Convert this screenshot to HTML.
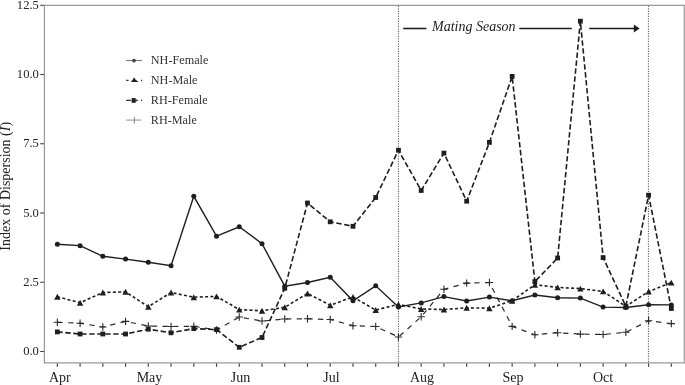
<!DOCTYPE html>
<html><head><meta charset="utf-8"><style>
html,body{margin:0;padding:0;background:#fff;}
svg{display:block;will-change:transform;}
text{font-family:"Liberation Serif",serif;fill:#222;}
.yl{font-size:12.6px;}
.xl{font-size:14px;}
.lg{font-size:12.2px;fill:#333;}
.ms{font-size:14px;font-style:italic;}
.ylab{font-size:14px;}
</style></head><body>
<svg width="685" height="385" viewBox="0 0 685 385">
<path d="M44.4,5.3 H684.3 M44.4,362.9 H684.3" fill="none" stroke="#999" stroke-width="1.2"/>
<path d="M44.4,4.7 V363.5 M684.3,4.7 V363.5" fill="none" stroke="#999" stroke-width="1.2"/>
<line x1="40.2" y1="351.5" x2="44" y2="351.5" stroke="#444" stroke-width="1.1"/>
<text x="38.9" y="355.00" text-anchor="end" class="yl">0.0</text>
<line x1="40.2" y1="282.25" x2="44" y2="282.25" stroke="#444" stroke-width="1.1"/>
<text x="38.9" y="285.75" text-anchor="end" class="yl">2.5</text>
<line x1="40.2" y1="213" x2="44" y2="213" stroke="#444" stroke-width="1.1"/>
<text x="38.9" y="216.50" text-anchor="end" class="yl">5.0</text>
<line x1="40.2" y1="143.75" x2="44" y2="143.75" stroke="#444" stroke-width="1.1"/>
<text x="38.9" y="147.25" text-anchor="end" class="yl">7.5</text>
<line x1="40.2" y1="74.5" x2="44" y2="74.5" stroke="#444" stroke-width="1.1"/>
<text x="38.9" y="78.00" text-anchor="end" class="yl">10.0</text>
<line x1="40.2" y1="5.3" x2="44" y2="5.3" stroke="#444" stroke-width="1.1"/>
<text x="38.9" y="8.80" text-anchor="end" class="yl">12.5</text>
<line x1="57.35" y1="363.4" x2="57.35" y2="366.8" stroke="#444" stroke-width="1.2"/>
<line x1="80.09" y1="363.4" x2="80.09" y2="366.8" stroke="#444" stroke-width="1.2"/>
<line x1="102.83" y1="363.4" x2="102.83" y2="366.8" stroke="#444" stroke-width="1.2"/>
<line x1="125.57" y1="363.4" x2="125.57" y2="366.8" stroke="#444" stroke-width="1.2"/>
<line x1="148.31" y1="363.4" x2="148.31" y2="366.8" stroke="#444" stroke-width="1.2"/>
<line x1="171.05" y1="363.4" x2="171.05" y2="366.8" stroke="#444" stroke-width="1.2"/>
<line x1="193.79" y1="363.4" x2="193.79" y2="366.8" stroke="#444" stroke-width="1.2"/>
<line x1="216.53" y1="363.4" x2="216.53" y2="366.8" stroke="#444" stroke-width="1.2"/>
<line x1="239.27" y1="363.4" x2="239.27" y2="366.8" stroke="#444" stroke-width="1.2"/>
<line x1="262.01" y1="363.4" x2="262.01" y2="366.8" stroke="#444" stroke-width="1.2"/>
<line x1="284.75" y1="363.4" x2="284.75" y2="366.8" stroke="#444" stroke-width="1.2"/>
<line x1="307.49" y1="363.4" x2="307.49" y2="366.8" stroke="#444" stroke-width="1.2"/>
<line x1="330.23" y1="363.4" x2="330.23" y2="366.8" stroke="#444" stroke-width="1.2"/>
<line x1="352.97" y1="363.4" x2="352.97" y2="366.8" stroke="#444" stroke-width="1.2"/>
<line x1="375.71" y1="363.4" x2="375.71" y2="366.8" stroke="#444" stroke-width="1.2"/>
<line x1="398.45" y1="363.4" x2="398.45" y2="366.8" stroke="#444" stroke-width="1.2"/>
<line x1="421.19" y1="363.4" x2="421.19" y2="366.8" stroke="#444" stroke-width="1.2"/>
<line x1="443.93" y1="363.4" x2="443.93" y2="366.8" stroke="#444" stroke-width="1.2"/>
<line x1="466.67" y1="363.4" x2="466.67" y2="366.8" stroke="#444" stroke-width="1.2"/>
<line x1="489.41" y1="363.4" x2="489.41" y2="366.8" stroke="#444" stroke-width="1.2"/>
<line x1="512.15" y1="363.4" x2="512.15" y2="366.8" stroke="#444" stroke-width="1.2"/>
<line x1="534.89" y1="363.4" x2="534.89" y2="366.8" stroke="#444" stroke-width="1.2"/>
<line x1="557.63" y1="363.4" x2="557.63" y2="366.8" stroke="#444" stroke-width="1.2"/>
<line x1="580.37" y1="363.4" x2="580.37" y2="366.8" stroke="#444" stroke-width="1.2"/>
<line x1="603.11" y1="363.4" x2="603.11" y2="366.8" stroke="#444" stroke-width="1.2"/>
<line x1="625.85" y1="363.4" x2="625.85" y2="366.8" stroke="#444" stroke-width="1.2"/>
<line x1="648.59" y1="363.4" x2="648.59" y2="366.8" stroke="#444" stroke-width="1.2"/>
<line x1="671.33" y1="363.4" x2="671.33" y2="366.8" stroke="#444" stroke-width="1.2"/>
<text x="59.9" y="381.7" text-anchor="middle" class="xl">Apr</text>
<text x="149.5" y="381.7" text-anchor="middle" class="xl">May</text>
<text x="240.6" y="381.7" text-anchor="middle" class="xl">Jun</text>
<text x="331.5" y="381.7" text-anchor="middle" class="xl">Jul</text>
<text x="422" y="381.7" text-anchor="middle" class="xl">Aug</text>
<text x="512.9" y="381.7" text-anchor="middle" class="xl">Sep</text>
<text x="603" y="381.7" text-anchor="middle" class="xl">Oct</text>
<line x1="398.4" y1="5.8" x2="398.4" y2="362.3" stroke="#555" stroke-width="1" stroke-dasharray="1.2 1.3"/>
<line x1="648.4" y1="5.8" x2="648.4" y2="362.3" stroke="#555" stroke-width="1" stroke-dasharray="1.2 1.3"/>
<text transform="translate(10.4,186.3) rotate(-90)" text-anchor="middle" class="ylab">Index of Dispersion (<tspan font-style="italic">I</tspan>)</text>
<line x1="403.2" y1="28.5" x2="426.4" y2="28.5" stroke="#1e1e1e" stroke-width="1.6"/>
<text x="432" y="30.6" class="ms">Mating Season</text>
<line x1="519.3" y1="28.5" x2="571.8" y2="28.5" stroke="#1e1e1e" stroke-width="1.6"/>
<line x1="589.2" y1="28.5" x2="635" y2="28.5" stroke="#1e1e1e" stroke-width="1.6"/>
<path d="M633.8,24.5 L639.6,28.5 L633.8,32.4 Z" fill="#1e1e1e"/>
<polyline points="57.35,322.30 80.09,323.20 102.83,327.00 125.57,321.40 148.31,326.00 171.05,326.50 193.79,326.30 216.53,330.00 239.27,317.00 262.01,321.00 284.75,319.00 307.49,318.80 330.23,319.50 352.97,325.70 375.71,326.50 398.45,337.00 421.19,316.80 443.93,289.30 466.67,283.10 489.41,282.50 512.15,326.40 534.89,334.70 557.63,332.70 580.37,334.10 603.11,334.50 625.85,332.30 648.59,320.80 671.33,323.60" fill="none" stroke="#2a2a2a" stroke-width="1.2" stroke-dasharray="5.3 5.345" stroke-dashoffset="-0.15"/>
<polyline points="57.35,331.90 80.09,334.00 102.83,334.00 125.57,334.00 148.31,329.20 171.05,332.80 193.79,328.60 216.53,329.60 239.27,347.30 262.01,337.50 284.75,288.30 307.49,203.00 330.23,221.80 352.97,226.30 375.71,197.50 398.45,150.20 421.19,190.50 443.93,153.10 466.67,201.20 489.41,142.40 512.15,76.40 534.89,281.60" fill="none" stroke="#1e1e1e" stroke-width="1.6" stroke-dasharray="5.4 2.605" stroke-dashoffset="0.045"/>
<polyline points="534.89,281.60 557.63,258.00 580.37,21.20 603.11,257.60 625.85,306.30 648.59,195.20 671.33,308.50" fill="none" stroke="#1e1e1e" stroke-width="1.6" stroke-dasharray="5.4 2.605" stroke-dashoffset="6.31"/>
<polyline points="57.35,296.75 80.09,302.75 102.83,292.50 125.57,291.80 148.31,306.70 171.05,292.50 193.79,297.20 216.53,296.40 239.27,309.60 262.01,310.80 284.75,307.30 307.49,293.50 330.23,305.20 352.97,297.00 375.71,310.00 398.45,304.40 421.19,309.00 443.93,309.50 466.67,307.80 489.41,308.20 512.15,300.70 534.89,284.80 557.63,287.40 580.37,288.60 603.11,291.40 625.85,306.30 648.59,291.50 671.33,282.60" fill="none" stroke="#1e1e1e" stroke-width="1.6" stroke-dasharray="3.0 2.33" stroke-dashoffset="0.15"/>
<polyline points="57.35,244.30 80.09,245.65 102.83,256.30 125.57,259.10 148.31,262.20 171.05,265.70 193.79,196.30 216.53,236.20 239.27,226.80 262.01,243.70 284.75,286.20 307.49,282.50 330.23,277.30 352.97,300.80 375.71,285.80 398.45,307.00 421.19,302.90 443.93,296.60 466.67,301.00 489.41,297.10 512.15,300.80 534.89,295.00 557.63,297.70 580.37,298.10 603.11,307.10 625.85,307.50 648.59,304.80 671.33,304.90" fill="none" stroke="#1e1e1e" stroke-width="1.4"/>
<path d="M53.65,322.30H61.05M57.35,318.60V326.00" stroke="#2a2a2a" stroke-width="1.1"/>
<path d="M76.39,323.20H83.79M80.09,319.50V326.90" stroke="#2a2a2a" stroke-width="1.1"/>
<path d="M99.13,327.00H106.53M102.83,323.30V330.70" stroke="#2a2a2a" stroke-width="1.1"/>
<path d="M121.87,321.40H129.27M125.57,317.70V325.10" stroke="#2a2a2a" stroke-width="1.1"/>
<path d="M144.61,326.00H152.01M148.31,322.30V329.70" stroke="#2a2a2a" stroke-width="1.1"/>
<path d="M167.35,326.50H174.75M171.05,322.80V330.20" stroke="#2a2a2a" stroke-width="1.1"/>
<path d="M190.09,326.30H197.49M193.79,322.60V330.00" stroke="#2a2a2a" stroke-width="1.1"/>
<path d="M212.83,330.00H220.23M216.53,326.30V333.70" stroke="#2a2a2a" stroke-width="1.1"/>
<path d="M235.57,317.00H242.97M239.27,313.30V320.70" stroke="#2a2a2a" stroke-width="1.1"/>
<path d="M258.31,321.00H265.71M262.01,317.30V324.70" stroke="#2a2a2a" stroke-width="1.1"/>
<path d="M281.05,319.00H288.45M284.75,315.30V322.70" stroke="#2a2a2a" stroke-width="1.1"/>
<path d="M303.79,318.80H311.19M307.49,315.10V322.50" stroke="#2a2a2a" stroke-width="1.1"/>
<path d="M326.53,319.50H333.93M330.23,315.80V323.20" stroke="#2a2a2a" stroke-width="1.1"/>
<path d="M349.27,325.70H356.67M352.97,322.00V329.40" stroke="#2a2a2a" stroke-width="1.1"/>
<path d="M372.01,326.50H379.41M375.71,322.80V330.20" stroke="#2a2a2a" stroke-width="1.1"/>
<path d="M394.75,337.00H402.15M398.45,333.30V340.70" stroke="#2a2a2a" stroke-width="1.1"/>
<path d="M417.49,316.80H424.89M421.19,313.10V320.50" stroke="#2a2a2a" stroke-width="1.1"/>
<path d="M440.23,289.30H447.63M443.93,285.60V293.00" stroke="#2a2a2a" stroke-width="1.1"/>
<path d="M462.97,283.10H470.37M466.67,279.40V286.80" stroke="#2a2a2a" stroke-width="1.1"/>
<path d="M485.71,282.50H493.11M489.41,278.80V286.20" stroke="#2a2a2a" stroke-width="1.1"/>
<path d="M508.45,326.40H515.85M512.15,322.70V330.10" stroke="#2a2a2a" stroke-width="1.1"/>
<path d="M531.19,334.70H538.59M534.89,331.00V338.40" stroke="#2a2a2a" stroke-width="1.1"/>
<path d="M553.93,332.70H561.33M557.63,329.00V336.40" stroke="#2a2a2a" stroke-width="1.1"/>
<path d="M576.67,334.10H584.07M580.37,330.40V337.80" stroke="#2a2a2a" stroke-width="1.1"/>
<path d="M599.41,334.50H606.81M603.11,330.80V338.20" stroke="#2a2a2a" stroke-width="1.1"/>
<path d="M622.15,332.30H629.55M625.85,328.60V336.00" stroke="#2a2a2a" stroke-width="1.1"/>
<path d="M644.89,320.80H652.29M648.59,317.10V324.50" stroke="#2a2a2a" stroke-width="1.1"/>
<path d="M667.63,323.60H675.03M671.33,319.90V327.30" stroke="#2a2a2a" stroke-width="1.1"/>
<rect x="54.95" y="329.50" width="4.8" height="4.8" fill="#1e1e1e"/>
<rect x="77.69" y="331.60" width="4.8" height="4.8" fill="#1e1e1e"/>
<rect x="100.43" y="331.60" width="4.8" height="4.8" fill="#1e1e1e"/>
<rect x="123.17" y="331.60" width="4.8" height="4.8" fill="#1e1e1e"/>
<rect x="145.91" y="326.80" width="4.8" height="4.8" fill="#1e1e1e"/>
<rect x="168.65" y="330.40" width="4.8" height="4.8" fill="#1e1e1e"/>
<rect x="191.39" y="326.20" width="4.8" height="4.8" fill="#1e1e1e"/>
<rect x="214.13" y="327.20" width="4.8" height="4.8" fill="#1e1e1e"/>
<rect x="236.87" y="344.90" width="4.8" height="4.8" fill="#1e1e1e"/>
<rect x="259.61" y="335.10" width="4.8" height="4.8" fill="#1e1e1e"/>
<rect x="282.35" y="285.90" width="4.8" height="4.8" fill="#1e1e1e"/>
<rect x="305.09" y="200.60" width="4.8" height="4.8" fill="#1e1e1e"/>
<rect x="327.83" y="219.40" width="4.8" height="4.8" fill="#1e1e1e"/>
<rect x="350.57" y="223.90" width="4.8" height="4.8" fill="#1e1e1e"/>
<rect x="373.31" y="195.10" width="4.8" height="4.8" fill="#1e1e1e"/>
<rect x="396.05" y="147.80" width="4.8" height="4.8" fill="#1e1e1e"/>
<rect x="418.79" y="188.10" width="4.8" height="4.8" fill="#1e1e1e"/>
<rect x="441.53" y="150.70" width="4.8" height="4.8" fill="#1e1e1e"/>
<rect x="464.27" y="198.80" width="4.8" height="4.8" fill="#1e1e1e"/>
<rect x="487.01" y="140.00" width="4.8" height="4.8" fill="#1e1e1e"/>
<rect x="509.75" y="74.00" width="4.8" height="4.8" fill="#1e1e1e"/>
<rect x="532.49" y="279.20" width="4.8" height="4.8" fill="#1e1e1e"/>
<rect x="555.23" y="255.60" width="4.8" height="4.8" fill="#1e1e1e"/>
<rect x="577.97" y="18.80" width="4.8" height="4.8" fill="#1e1e1e"/>
<rect x="600.71" y="255.20" width="4.8" height="4.8" fill="#1e1e1e"/>
<rect x="623.45" y="303.90" width="4.8" height="4.8" fill="#1e1e1e"/>
<rect x="646.19" y="192.80" width="4.8" height="4.8" fill="#1e1e1e"/>
<rect x="668.93" y="306.10" width="4.8" height="4.8" fill="#1e1e1e"/>
<path d="M57.35,293.80 L60.55,299.70 L54.15,299.70 Z" fill="#1e1e1e"/>
<path d="M80.09,299.80 L83.29,305.70 L76.89,305.70 Z" fill="#1e1e1e"/>
<path d="M102.83,289.55 L106.03,295.45 L99.63,295.45 Z" fill="#1e1e1e"/>
<path d="M125.57,288.85 L128.77,294.75 L122.37,294.75 Z" fill="#1e1e1e"/>
<path d="M148.31,303.75 L151.51,309.65 L145.11,309.65 Z" fill="#1e1e1e"/>
<path d="M171.05,289.55 L174.25,295.45 L167.85,295.45 Z" fill="#1e1e1e"/>
<path d="M193.79,294.25 L196.99,300.15 L190.59,300.15 Z" fill="#1e1e1e"/>
<path d="M216.53,293.45 L219.73,299.35 L213.33,299.35 Z" fill="#1e1e1e"/>
<path d="M239.27,306.65 L242.47,312.55 L236.07,312.55 Z" fill="#1e1e1e"/>
<path d="M262.01,307.85 L265.21,313.75 L258.81,313.75 Z" fill="#1e1e1e"/>
<path d="M284.75,304.35 L287.95,310.25 L281.55,310.25 Z" fill="#1e1e1e"/>
<path d="M307.49,290.55 L310.69,296.45 L304.29,296.45 Z" fill="#1e1e1e"/>
<path d="M330.23,302.25 L333.43,308.15 L327.03,308.15 Z" fill="#1e1e1e"/>
<path d="M352.97,294.05 L356.17,299.95 L349.77,299.95 Z" fill="#1e1e1e"/>
<path d="M375.71,307.05 L378.91,312.95 L372.51,312.95 Z" fill="#1e1e1e"/>
<path d="M398.45,301.45 L401.65,307.35 L395.25,307.35 Z" fill="#1e1e1e"/>
<path d="M421.19,306.05 L424.39,311.95 L417.99,311.95 Z" fill="#1e1e1e"/>
<path d="M443.93,306.55 L447.13,312.45 L440.73,312.45 Z" fill="#1e1e1e"/>
<path d="M466.67,304.85 L469.87,310.75 L463.47,310.75 Z" fill="#1e1e1e"/>
<path d="M489.41,305.25 L492.61,311.15 L486.21,311.15 Z" fill="#1e1e1e"/>
<path d="M512.15,297.75 L515.35,303.65 L508.95,303.65 Z" fill="#1e1e1e"/>
<path d="M534.89,281.85 L538.09,287.75 L531.69,287.75 Z" fill="#1e1e1e"/>
<path d="M557.63,284.45 L560.83,290.35 L554.43,290.35 Z" fill="#1e1e1e"/>
<path d="M580.37,285.65 L583.57,291.55 L577.17,291.55 Z" fill="#1e1e1e"/>
<path d="M603.11,288.45 L606.31,294.35 L599.91,294.35 Z" fill="#1e1e1e"/>
<path d="M625.85,303.35 L629.05,309.25 L622.65,309.25 Z" fill="#1e1e1e"/>
<path d="M648.59,288.55 L651.79,294.45 L645.39,294.45 Z" fill="#1e1e1e"/>
<path d="M671.33,279.65 L674.53,285.55 L668.13,285.55 Z" fill="#1e1e1e"/>
<circle cx="57.35" cy="244.30" r="2.5" fill="#1e1e1e"/>
<circle cx="80.09" cy="245.65" r="2.5" fill="#1e1e1e"/>
<circle cx="102.83" cy="256.30" r="2.5" fill="#1e1e1e"/>
<circle cx="125.57" cy="259.10" r="2.5" fill="#1e1e1e"/>
<circle cx="148.31" cy="262.20" r="2.5" fill="#1e1e1e"/>
<circle cx="171.05" cy="265.70" r="2.5" fill="#1e1e1e"/>
<circle cx="193.79" cy="196.30" r="2.5" fill="#1e1e1e"/>
<circle cx="216.53" cy="236.20" r="2.5" fill="#1e1e1e"/>
<circle cx="239.27" cy="226.80" r="2.5" fill="#1e1e1e"/>
<circle cx="262.01" cy="243.70" r="2.5" fill="#1e1e1e"/>
<circle cx="284.75" cy="286.20" r="2.5" fill="#1e1e1e"/>
<circle cx="307.49" cy="282.50" r="2.5" fill="#1e1e1e"/>
<circle cx="330.23" cy="277.30" r="2.5" fill="#1e1e1e"/>
<circle cx="352.97" cy="300.80" r="2.5" fill="#1e1e1e"/>
<circle cx="375.71" cy="285.80" r="2.5" fill="#1e1e1e"/>
<circle cx="398.45" cy="307.00" r="2.5" fill="#1e1e1e"/>
<circle cx="421.19" cy="302.90" r="2.5" fill="#1e1e1e"/>
<circle cx="443.93" cy="296.60" r="2.5" fill="#1e1e1e"/>
<circle cx="466.67" cy="301.00" r="2.5" fill="#1e1e1e"/>
<circle cx="489.41" cy="297.10" r="2.5" fill="#1e1e1e"/>
<circle cx="512.15" cy="300.80" r="2.5" fill="#1e1e1e"/>
<circle cx="534.89" cy="295.00" r="2.5" fill="#1e1e1e"/>
<circle cx="557.63" cy="297.70" r="2.5" fill="#1e1e1e"/>
<circle cx="580.37" cy="298.10" r="2.5" fill="#1e1e1e"/>
<circle cx="603.11" cy="307.10" r="2.5" fill="#1e1e1e"/>
<circle cx="625.85" cy="307.50" r="2.5" fill="#1e1e1e"/>
<circle cx="648.59" cy="304.80" r="2.5" fill="#1e1e1e"/>
<circle cx="671.33" cy="304.90" r="2.5" fill="#1e1e1e"/>
<line x1="126.2" y1="60.5" x2="142" y2="60.5" stroke="#777" stroke-width="1.1"/><circle cx="134" cy="60.6" r="1.9" fill="#444"/>
<path d="M126.2,80.4H128.6 M141,80.4H142.2" stroke="#333" stroke-width="1.1"/><path d="M134.1,77.2 L135.4,79.4 L138.5,81.9 L130.9,81.9 L132.8,79.4 Z" fill="#1e1e1e"/>
<path d="M126.2,100.4H131 M135.6,100.4H137.4 M141,100.4H142.1" stroke="#333" stroke-width="1.2"/><path d="M135.6,99.3 L138.6,100.4 L135.6,101.5Z" fill="#333"/><rect x="131.6" y="98.1" width="4.1" height="4.7" fill="#1e1e1e"/>
<path d="M126.2,120.1H141" stroke="#999" stroke-width="1.1"/><path d="M134.4,116.8V123.6" stroke="#888" stroke-width="1"/>
<text x="150.8" y="64.1" class="lg">NH-Female</text>
<text x="150.8" y="84.1" class="lg">NH-Male</text>
<text x="150.8" y="104.1" class="lg">RH-Female</text>
<text x="150.8" y="124.1" class="lg">RH-Male</text>
</svg>
</body></html>
